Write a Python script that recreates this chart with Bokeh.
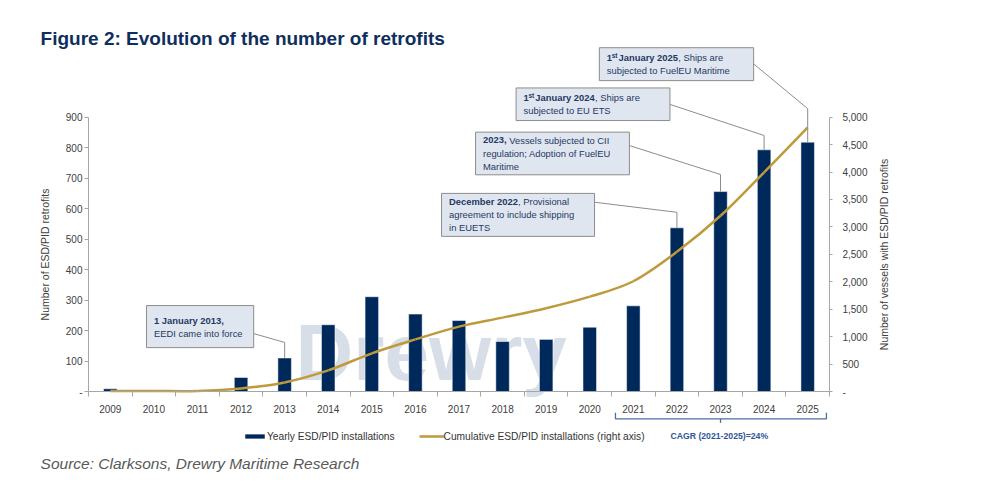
import numpy as np
from bokeh.plotting import figure
from bokeh.models import (Range1d, LinearAxis, FixedTicker, NumeralTickFormatter,
                          Legend, LegendItem)
from bokeh.core.properties import value
from bokeh.embed import file_html
from bokeh.resources import INLINE

# data
years = list(range(2009, 2026))
yearly = [9, 0, 1, 46, 110, 219, 311, 254, 233, 164, 171, 211, 281, 537, 656, 793, 818]
cumulative = [9, 9, 10, 56, 166, 385, 696, 950, 1183, 1347, 1518, 1729, 2010, 2547,
              3203, 3996, 4814]
left_ticks = list(range(0, 901, 100))
right_ticks = list(range(0, 5001, 500))
cagr_span = (2021, 2025)
cagr_label = "CAGR (2021-2025)=24%"

# call-out boxes: year pointed at, box (left, right, top, bottom) in chart units,
# y where the leader leaves the box and y of its elbow
note_years = [2013, 2022, 2023, 2024, 2025]
note_boxes = [(2009.83, 2012.29, 282, 144),
              (2016.60, 2020.11, 650, 509),
              (2017.38, 2020.91, 851, 711),
              (2018.31, 2021.84, 996, 889),
              (2020.22, 2023.76, 1128, 1020)]
note_links = [(190, 161), (621, 588), (807, 712), (942, 840), (1075, 928)]
# each line: pieces of (text, style, x offset in px)
note_texts = [
    [[("1 January 2013,", "b", 0)], [("EEDI came into force", "r", 0)]],
    [[("December 2022", "b", 0), (", Provisional", "r", 69)],
     [("agreement to include shipping", "r", 0)], [("in EUETS", "r", 0)]],
    [[("2023,", "b", 0), ("Vessels subjected to CII", "r", 26.2)],
     [("regulation; Adoption of FuelEU", "r", 0)], [("Maritime", "r", 0)]],
    [[("1", "b", 0), ("st", "sup", 4.8), ("January 2024", "b", 11.7), (", Ships are", "r", 71.5)],
     [("subjected to EU ETS", "r", 0)]],
    [[("1", "b", 0), ("st", "sup", 4.8), ("January 2025", "b", 11.7), (", Ships are", "r", 71.5)],
     [("subjected to FuelEU Maritime", "r", 0)]],
]

NAVY = "#00295b"
GOLD = "#bf9a3c"
AXIS = "#a6a6a6"
TXT = "#404040"
NOTE = "#1f3864"
FONT = "Liberation Sans"

x_lo, x_hi = years[0] - 0.5, years[-1] + 0.5
k = 5000 / 900  # right axis units per left axis unit

p = figure(width=975, height=484, x_range=Range1d(2006.481, 2028.85),
           y_range=Range1d(-305.1, 1282.9), output_backend="svg",
           toolbar_location=None, tools="", min_border=0)
p.title.visible = False
p.outline_line_color = None
p.xgrid.grid_line_color = None
p.ygrid.grid_line_color = None
p.extra_y_ranges = {"right": Range1d(-305.1 * k, 1282.9 * k)}

# watermark
p.text(x=[2013.25], y=[129], text=["Drewry"], text_font=value(FONT), text_font_style="bold",
       text_font_size="80px", text_color="#d8dee8", text_baseline="alphabetic")

bars = p.vbar(x=years, top=yearly, width=0.31, fill_color=NAVY, line_color="white",
              line_width=0.5)

# smoothed cumulative line (cubic Bezier segments through the data points)
xs = np.array(years, dtype=float)
ys = np.array(cumulative, dtype=float)
qx = np.concatenate([[xs[0]], xs, [xs[-1]]])
qy = np.concatenate([[ys[0]], ys, [ys[-1]]])
n = len(xs)
curve = p.bezier(x0=xs[:-1], y0=ys[:-1], x1=xs[1:], y1=ys[1:],
                 cx0=qx[1:n] + (qx[2:n + 1] - qx[:n - 1]) / 6,
                 cy0=qy[1:n] + (qy[2:n + 1] - qy[:n - 1]) / 6,
                 cx1=qx[2:n + 1] - (qx[3:n + 2] - qx[1:n]) / 6,
                 cy1=qy[2:n + 1] - (qy[3:n + 2] - qy[1:n]) / 6,
                 line_color=GOLD, line_width=2.5, y_range_name="right")

# axes
p.xaxis.fixed_location = 0
p.xaxis.bounds = (x_lo, x_hi)
p.xaxis.ticker = FixedTicker(ticks=years, minor_ticks=[y - 0.5 for y in years] + [x_hi])
p.xaxis.major_tick_in = 0
p.xaxis.major_tick_out = 0
p.xaxis.minor_tick_in = 0
p.xaxis.minor_tick_out = 5
p.xaxis.minor_tick_line_color = AXIS
p.xaxis.axis_line_color = AXIS
p.xaxis.major_label_standoff = 8

p.yaxis.fixed_location = x_lo
p.yaxis.bounds = (0, 900)
p.yaxis.ticker = FixedTicker(ticks=left_ticks)
p.yaxis.major_label_overrides = {0: "-"}
p.yaxis.major_tick_in = 0
p.yaxis.major_tick_out = 4
p.yaxis.minor_tick_line_color = None
p.yaxis.major_tick_line_color = AXIS
p.yaxis.axis_line_color = AXIS
p.yaxis.major_label_standoff = 2

right = LinearAxis(y_range_name="right", fixed_location=x_hi, bounds=(0, 5000),
                   ticker=FixedTicker(ticks=right_ticks),
                   formatter=NumeralTickFormatter(format="0,0"),
                   major_label_overrides={0: "-"}, major_tick_in=0, major_tick_out=3,
                   minor_tick_line_color=None, major_tick_line_color=AXIS,
                   axis_line_color=AXIS, major_label_standoff=10)
p.add_layout(right, "right")

for ax in (p.xaxis[0], p.yaxis[0], right):
    ax.major_label_text_font = FONT
    ax.major_label_text_font_size = "10px"
    ax.major_label_text_color = TXT

# axis titles
p.text(x=[2007.51], y=[449.5], text=["Number of ESD/PID retrofits"], angle=np.pi / 2,
       text_font=value(FONT), text_font_size="10.5px", text_color=TXT,
       text_align="center", text_baseline="middle")
p.text(x=[2026.75], y=[449.5], text=["Number of vessels with ESD/PID retrofits"],
       angle=np.pi / 2, text_font=value(FONT), text_font_size="10.5px", text_color=TXT,
       text_align="center", text_baseline="middle")

# call-outs
lx, ly = [], []
for yr, (bx0, bx1, bt, bb), (ys0, ye) in zip(note_years, note_boxes, note_links):
    lx.append([bx1, yr, yr])
    ly.append([ys0, ye, yearly[years.index(yr)]])
p.multi_line(xs=lx, ys=ly, line_color="#8c8c8c", line_width=1)
p.quad(left=[b[0] for b in note_boxes], right=[b[1] for b in note_boxes],
       top=[b[2] for b in note_boxes], bottom=[b[3] for b in note_boxes],
       fill_color="#e0e6ef", line_color="#8c8c8c", line_width=1)

pieces = {"b": {}, "r": {}, "sup": {}}
for d in pieces.values():
    for c in ("x", "y", "text", "dx", "dy"):
        d[c] = []
for (bx0, bx1, bt, bb), lines in zip(note_boxes, note_texts):
    mid = (bt + bb) / 2
    for i, line in enumerate(lines):
        dy = (i - (len(lines) - 1) / 2) * 13
        for txt, style, dx in line:
            d = pieces[style]
            d["x"].append(bx0)
            d["y"].append(mid)
            d["text"].append(txt)
            d["dx"].append(7.5 + dx)
            d["dy"].append(dy - 2.5 if style == "sup" else dy)
for style, weight, size in (("b", "bold", "9.4px"), ("r", "normal", "9.4px"),
                            ("sup", "bold", "6.5px")):
    d = pieces[style]
    p.text(x=d["x"], y=d["y"], text=d["text"], x_offset=d["dx"], y_offset=d["dy"],
           text_font=value(FONT), text_font_style=weight, text_font_size=size,
           text_color=NOTE, text_align="left", text_baseline="middle")

# CAGR bracket
bl, br = cagr_span[0] - 0.41, cagr_span[1] + 0.43
bm = (cagr_span[0] + cagr_span[1]) / 2
p.multi_line(xs=[[bl, bl, br, br], [bm, bm]], ys=[[-70, -90, -90, -70], [-90, -103]],
             line_color="#4a6fa5", line_width=1.3)
p.text(x=[2021.85], y=[-146.7], text=[cagr_label], text_font=value(FONT),
       text_font_style="bold", text_font_size="8.7px", text_color="#2f5597",
       text_baseline="middle")

legend = Legend(items=[LegendItem(label="Yearly ESD/PID installations", renderers=[bars]),
                       LegendItem(label="Cumulative ESD/PID installations (right axis)",
                                  renderers=[curve])],
                orientation="horizontal", location=(242, 42), glyph_width=25,
                glyph_height=6, label_height=12, label_standoff=0, spacing=24,
                padding=0, margin=0, border_line_color=None, background_fill_alpha=0,
                label_text_font=FONT, label_text_font_size="10.2px",
                label_text_color="#333333")
p.add_layout(legend)

# title and source
p.text(x=[2007.4], y=[1158], text=["Figure 2: Evolution of the number of retrofits"],
       text_font=value(FONT), text_font_style="bold", text_font_size="19px",
       text_color="#0e2f5e", text_baseline="middle")
p.text(x=[2007.4], y=[-235], text=["Source: Clarksons, Drewry Maritime Research"],
       text_font=value(FONT), text_font_style="italic", text_font_size="15.5px",
       text_color="#595959", text_baseline="middle")

open("out.html", "w").write(file_html(p, INLINE))
